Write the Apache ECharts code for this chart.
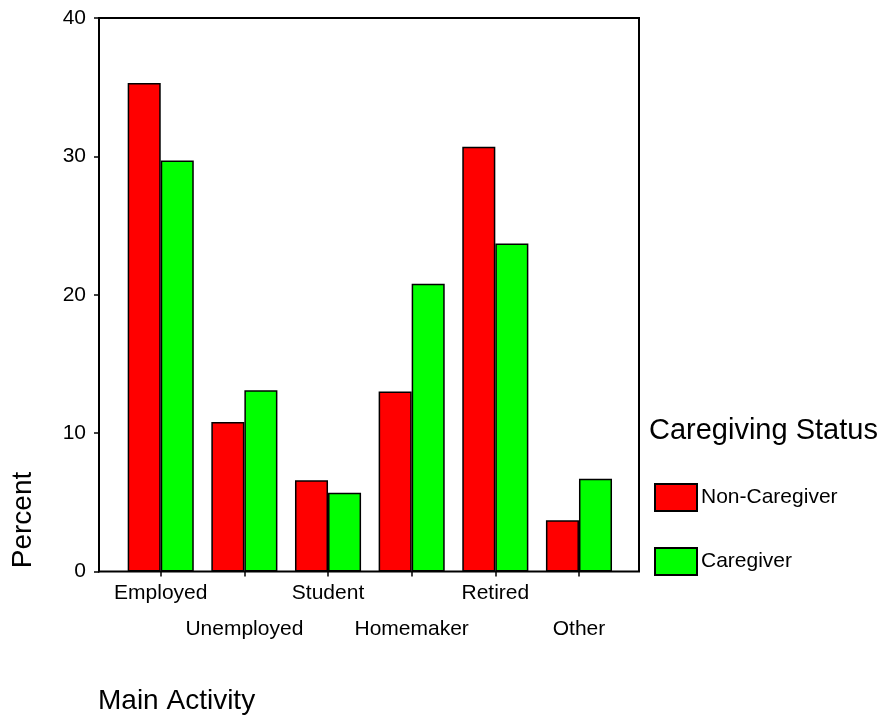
<!DOCTYPE html>
<html>
<head>
<meta charset="utf-8">
<script src="https://cdn.jsdelivr.net/npm/echarts@6/dist/echarts.min.js"></script>
<style>html,body{margin:0;padding:0;background:#fff}#c{width:885px;height:719px}</style>
</head>
<body>
<div id="c"></div>
<script>
var categories = ['Employed', 'Unemployed', 'Student', 'Homemaker', 'Retired', 'Other'];
var nonCaregiver = [35.3, 10.8, 6.6, 13.0, 30.7, 3.7];
var caregiver = [29.7, 13.1, 5.7, 20.8, 23.7, 6.7];
var seriesNames = ['Non-Caregiver', 'Caregiver'];
var legendTitle = 'Caregiving Status';
var yAxisTitle = 'Percent';
var xAxisTitle = 'Main Activity';

var FONT = '"Liberation Sans", Arial, sans-serif';
var chart = echarts.init(document.getElementById('c'), null, {renderer: 'canvas'});
chart.setOption({
  animation: false,
  backgroundColor: '#fff',
  textStyle: {fontFamily: FONT, color: '#000'},
  grid: [
    {left: 99, right: 246, top: 18, bottom: 147.5, show: true, borderColor: '#000', borderWidth: 2, backgroundColor: 'transparent'},
    {left: 118.9, right: 264.2, top: 18, bottom: 147.5}
  ],
  xAxis: [
    {gridIndex: 0, type: 'value', min: 0, max: 1, show: false},
    {gridIndex: 1, type: 'category', data: categories,
     axisLine: {show: false},
     axisTick: {show: true, alignWithLabel: true, length: 5, lineStyle: {color: '#000', width: 1.5}},
     axisLabel: {interval: 0, margin: 4, fontSize: 21, fontFamily: FONT, color: '#000', lineHeight: 36,
       formatter: function (v, i) { return i % 2 === 1 ? '\n' + v : v; }}
    }
  ],
  yAxis: [
    {gridIndex: 0, type: 'value', min: 0, max: 40, interval: 10,
     axisLine: {show: true, lineStyle: {color: '#000', width: 2}},
     axisTick: {show: true, length: 5, lineStyle: {color: '#000', width: 1.5}},
     splitLine: {show: false},
     axisLabel: {margin: 13, fontSize: 21, fontFamily: FONT, color: '#000'}
    },
    {gridIndex: 1, type: 'value', min: 0, max: 40, interval: 10, show: false, splitLine: {show: false}}
  ],
  legend: {
    orient: 'vertical', left: 654, top: 483, padding: 0, itemWidth: 42, itemHeight: 27, itemGap: 35,
    icon: 'rect',
    textStyle: {fontSize: 21, fontFamily: FONT, color: '#000', padding: [0, 0, 0, -1]},
    data: seriesNames
  },
  graphic: [
    {type: 'text', left: 649, top: 416, style: {text: legendTitle, font: '29px ' + FONT, fill: '#000'}},
    {type: 'text', x: 23, y: 520, rotation: Math.PI / 2,
     style: {text: yAxisTitle, font: '28px ' + FONT, fill: '#000', align: 'center', verticalAlign: 'middle'}},
    {type: 'text', x: 98, y: 701,
     style: {text: xAxisTitle, font: '28px ' + FONT, fill: '#000', align: 'left', verticalAlign: 'middle'}}
  ],
  series: [
    {name: seriesNames[0], type: 'bar', xAxisIndex: 1, yAxisIndex: 1, data: nonCaregiver,
     barGap: '0%', barCategoryGap: '21%',
     itemStyle: {color: '#ff0000', borderColor: '#000', borderWidth: 1.5}},
    {name: seriesNames[1], type: 'bar', xAxisIndex: 1, yAxisIndex: 1, data: caregiver,
     barGap: '0%', barCategoryGap: '21%',
     itemStyle: {color: '#00ff00', borderColor: '#000', borderWidth: 1.5}}
  ]
});
</script>
</body>
</html>
